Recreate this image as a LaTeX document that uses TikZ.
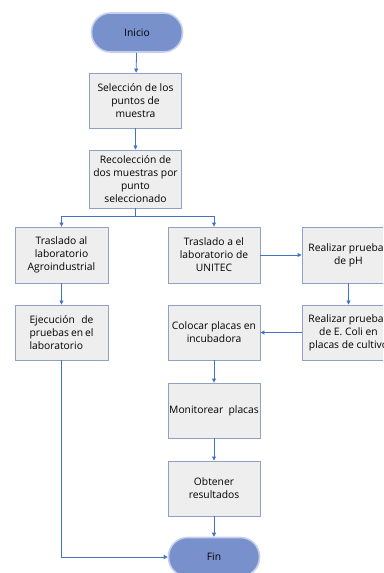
\documentclass[tikz,border=0pt]{standalone}
\usepackage{fontspec}
\setmainfont{Open Sans}
\usetikzlibrary{arrows.meta}
\definecolor{boxfill}{HTML}{EEEEEE}
\definecolor{boxline}{HTML}{8FA2C6}
\definecolor{arr}{HTML}{4472C4}
\definecolor{termfill}{HTML}{7890CC}
\definecolor{termline}{HTML}{C5D1EC}
\begin{document}
\begin{tikzpicture}[x=1pt,y=-1pt,
  font=\fontsize{10.3}{13}\selectfont,
  stepbox/.style={draw=boxline, fill=boxfill, line width=0.9pt, minimum width=92pt, minimum height=55pt, align=center, inner sep=1pt},
  term/.style={draw=termline, fill=termfill, line width=1.6pt, minimum width=91pt, minimum height=39pt, rounded corners=19pt},
  conn/.style={draw=arr, line width=0.8pt, -{Triangle[length=4pt,width=4pt]}},
  line/.style={draw=arr, line width=0.8pt}]
\useasboundingbox (0,0) rectangle (383,573);
\clip (0,0) rectangle (383,573);
\node[term] (ini) at (137,32.5) {Inicio};
\node[stepbox] (sel) at (135.5,100.5) {Selección de los\\puntos de\\muestra};
\node[stepbox, minimum height=58pt] (rec) at (135.5,179) {Recolección de\\dos muestras por\\punto\\seleccionado};
\node[stepbox, minimum width=93pt, minimum height=56pt] (tal) at (61.5,255) {Traslado al\\laboratorio\\Agroindustrial};
\node[stepbox, minimum width=93pt] (eje) at (61.5,332.5) {\makebox[64pt][s]{Ejecución de}\\\makebox[64pt][s]{pruebas en el}\\\makebox[64pt][l]{laboratorio}};
\node[stepbox, minimum height=56pt] (tae) at (214,255) {Traslado a el\\laboratorio de\\UNITEC};
\node[stepbox, minimum width=93pt, minimum height=56pt] (ph) at (348.5,255) {Realizar pruebas\\de pH};
\node[stepbox, minimum width=93pt] (eco) at (348.5,332.5) {Realizar pruebas\\de E. Coli en\\placas de cultivo};
\node[stepbox] (col) at (214,332.5) {Colocar placas en\\incubadora};
\node[stepbox] (mon) at (214,410.5) {Monitorear\ \ placas};
\node[stepbox] (obt) at (214,488.5) {Obtener\\resultados};
\node[term] (fin) at (214,557) {Fin};
\draw[conn] (ini) -- (sel);
\draw[conn] (sel) -- (rec);
\coordinate (br) at (135.5,216);
\draw[line] (rec) -- (br);
\draw[conn] (br) -| (tal);
\draw[conn] (br) -| (tae);
\draw[conn] (tal) -- (eje);
\draw[conn] (tae) -- (ph);
\draw[conn] (ph) -- (eco);
\draw[conn] (eco) -- (col);
\draw[conn] (col) -- (mon);
\draw[conn] (mon) -- (obt);
\draw[conn] (obt) -- (fin);
\draw[conn] (eje) |- (fin);
\end{tikzpicture}
\end{document}
